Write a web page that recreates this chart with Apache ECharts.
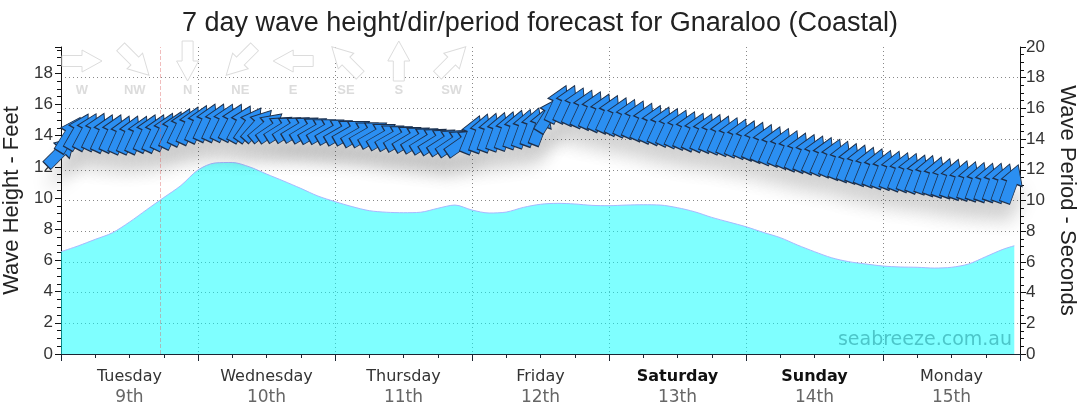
<!DOCTYPE html>
<html>
<head>
<meta charset="utf-8">
<title>Gnaraloo wave forecast</title>
<script src="https://cdn.jsdelivr.net/npm/echarts@6/dist/echarts.min.js"></script>
<style>
  html, body { margin: 0; padding: 0; background: #fff; }
  #chart { width: 1080px; height: 414px; }
</style>
</head>
<body>
<div id="chart"></div>
<script>
// day labels under the x axis
const dayNames = ['Tuesday', 'Wednesday', 'Thursday', 'Friday', 'Saturday', 'Sunday', 'Monday'];
const dayDates = ['9th', '10th', '11th', '12th', '13th', '14th', '15th'];
const weekendDays = ['Saturday', 'Sunday'];

// wave height (feet), hours from Tuesday 00:00
const heightHours = [0, 3, 6, 9, 12, 15, 18, 21, 24, 27, 30, 33, 36, 39, 42, 45, 48, 51, 54, 57,
  60, 63, 66, 69, 72, 75, 78, 81, 84, 87, 90, 93, 96, 99, 102, 105, 108, 111, 114, 117,
  120, 123, 126, 129, 132, 135, 138, 141, 144, 147, 150, 153, 156, 159, 162, 165, 167];
const waveHeightFt = [6.56, 6.93, 7.35, 7.77, 8.46, 9.25, 10.03, 10.8, 11.8, 12.25,
  12.28, 12.0, 11.54, 11.09, 10.62, 10.13, 9.77, 9.45, 9.19, 9.09,
  9.06, 9.09, 9.34, 9.55, 9.23, 9.04, 9.1, 9.4, 9.6, 9.66,
  9.62, 9.53, 9.51, 9.55, 9.57, 9.55, 9.38, 9.12, 8.76, 8.46,
  8.16, 7.8, 7.46, 6.99, 6.56, 6.17, 5.92, 5.77, 5.64, 5.58,
  5.56, 5.51, 5.56, 5.77, 6.24, 6.71, 6.94];

// wave period (seconds) and direction (degrees, coming from), one arrow every 1.5 h
const periodStepHours = 1.5;
const wavePeriodSec = [13.2, 14.3, 14.5, 14.5, 14.5, 14.4, 14.4, 14.3, 14.3, 14.3,
  14.4, 14.4, 14.5, 14.6, 14.8, 14.9, 15.0, 15.1, 15.1, 15.1,
  15.1, 15.0, 14.95, 14.9, 14.8, 14.7, 14.7, 14.7, 14.7, 14.65,
  14.6, 14.6, 14.55, 14.5, 14.5, 14.4, 14.4, 14.3, 14.2, 14.15,
  14.1, 14.05, 14.0, 13.95, 13.9, 13.85, 13.8, 13.8, 14.3, 14.4,
  14.45, 14.5, 14.55, 14.65, 14.7, 14.8, 14.85, 15.6, 16.3, 16.3,
  16.15, 16.0, 15.9, 15.75, 15.65, 15.5, 15.4, 15.3, 15.15, 15.0,
  14.9, 14.8, 14.7, 14.6, 14.5, 14.45, 14.4, 14.3, 14.2, 14.1,
  14.0, 13.9, 13.75, 13.6, 13.5, 13.35, 13.2, 13.1, 13.0, 12.9,
  12.8, 12.65, 12.5, 12.4, 12.25, 12.15, 12.05, 12.0, 11.9, 11.85,
  11.75, 11.7, 11.6, 11.5, 11.45, 11.35, 11.3, 11.25, 11.2, 11.2,
  11.15, 11.1];
const waveDirDeg = [225, 212, 210, 208,
  206, 205, 205, 204, 204, 205, 205, 205, 206, 206, 206, 205, 205, 205, 205, 206, 207, 208, 215, 222, 230,
  236, 238, 238, 239, 239, 240, 240, 240, 240, 240, 240, 240, 240, 240, 240, 240, 239, 239, 238, 238, 237, 236, 235,
  202, 200, 200, 200, 200, 200, 200, 200, 201,
  212,
  205, 205, 205, 205, 205, 205, 205, 205, 205, 205, 205, 205, 205, 205, 205, 205, 205, 205,
  204, 204, 204, 204, 204, 204, 204, 204, 204, 204, 204, 204, 204, 204, 204,
  202, 202, 202, 202, 202, 202, 202, 202, 202, 202,
  200, 200, 200, 200, 200, 200, 200, 200, 200, 200, 200];

// compass key at the top left
const compassLabels = ['W', 'NW', 'N', 'NE', 'E', 'SE', 'S', 'SW'];
const compassFromDeg = [270, 315, 0, 45, 90, 135, 180, 225];

const nowHour = 17.3;
const ARROW_PATH = 'path://M5.5,40L5.5,19L0,19L11,0L22,19L16.5,19L16.5,40Z';
const ARROW_SIZE = [22, 40];
const FONT_ARIAL = '"Liberation Sans", Arial, sans-serif';
const FONT_VERDANA = '"DejaVu Sans", Verdana, sans-serif';

const chart = echarts.init(document.getElementById('chart'));

const heightData = heightHours.map((h, i) => [h, waveHeightFt[i]]);
const arrowData = wavePeriodSec.map((p, i) => ({
  value: [i * periodStepHours, p],
  // arrow points where the swell is going
  symbolRotate: -((waveDirDeg[i] + 180) % 360)
}));

// compass key drawn as graphic elements
const compassGraphics = [];
compassLabels.forEach((lab, k) => {
  const cx = 82 + 52.8 * k;
  const toward = (compassFromDeg[k] + 180) % 360;
  compassGraphics.push({
    type: 'polygon',
    x: cx,
    y: 61,
    rotation: -(toward - 90) * Math.PI / 180,
    shape: {
      points: [[-20, -5.5], [0, -5.5], [0, -11], [20, 0], [0, 11], [0, 5.5], [-20, 5.5]]
    },
    style: { fill: '#fff', stroke: '#dcdcdc', lineWidth: 1 },
    silent: true,
    z: 1
  });
  compassGraphics.push({
    type: 'text',
    x: cx,
    y: 90,
    style: {
      text: lab,
      fill: '#dcdcdc',
      font: 'bold 13px ' + FONT_ARIAL,
      align: 'center',
      verticalAlign: 'middle'
    },
    silent: true,
    z: 1
  });
});

const gridLine = { type: [1, 3], color: '#888', width: 1 };

const option = {
  animation: false,
  backgroundColor: '#fff',
  title: {
    text: '7 day wave height/dir/period forecast for Gnaraloo (Coastal)',
    left: 'center',
    top: 5,
    textStyle: { fontFamily: FONT_ARIAL, fontSize: 27, fontWeight: 'normal', color: '#222' }
  },
  grid: { left: 61, right: 60, top: 47, bottom: 60, outerBoundsMode: 'none', containLabel: false },
  graphic: compassGraphics.concat([
    {
      type: 'text',
      right: 68,
      top: 331,
      style: {
        text: 'seabreeze.com.au',
        fill: '#4cc6c9',
        font: '19px ' + FONT_VERDANA
      },
      silent: true,
      z: 10
    }
  ]),
  xAxis: [
    {
      type: 'value',
      min: 0,
      max: 168,
      interval: 24,
      axisLine: { show: true, onZero: false, lineStyle: { color: '#1a2533', width: 1 } },
      axisTick: { show: true, length: 7, lineStyle: { color: '#1a2533' } },
      minorTick: { show: true, splitNumber: 4, length: 4, lineStyle: { color: '#1a2533' } },
      axisLabel: { show: false },
      splitLine: { show: true, showMinLine: false, showMaxLine: false, lineStyle: gridLine }
    },
    {
      type: 'category',
      data: dayNames,
      position: 'bottom',
      boundaryGap: true,
      axisLine: { show: false },
      axisTick: { show: false },
      axisLabel: {
        margin: 12,
        formatter: (v, i) => {
          const style = weekendDays.includes(v) ? 'w' : 'd';
          return '{' + style + '|' + v + '}\n{n|' + dayDates[i] + '}';
        },
        rich: {
          d: { fontFamily: FONT_VERDANA, fontSize: 16, color: '#333', lineHeight: 21 },
          w: { fontFamily: FONT_VERDANA, fontSize: 16, fontWeight: 'bold', color: '#111', lineHeight: 21 },
          n: { fontFamily: FONT_VERDANA, fontSize: 17, color: '#666', lineHeight: 21 }
        }
      }
    }
  ],
  yAxis: [
    {
      type: 'value',
      min: 0,
      max: 19.685,
      interval: 2,
      name: 'Wave Height - Feet',
      nameLocation: 'middle',
      nameGap: 28,
      nameTextStyle: { fontFamily: FONT_ARIAL, fontSize: 22, color: '#222' },
      axisLine: { show: true, lineStyle: { color: '#111' } },
      axisTick: { show: true, length: 6, lineStyle: { color: '#111' } },
      minorTick: { show: true, splitNumber: 4, length: 4, lineStyle: { color: '#111' } },
      axisLabel: {
        margin: 8,
        fontFamily: FONT_ARIAL,
        fontSize: 17,
        color: '#333',
        formatter: v => (Number.isInteger(v) ? String(v) : '')
      },
      splitLine: { show: false }
    },
    {
      type: 'value',
      min: 0,
      max: 20,
      interval: 2,
      position: 'right',
      name: 'Wave Period - Seconds',
      nameLocation: 'middle',
      nameGap: 36,
      nameRotate: -90,
      nameTextStyle: { fontFamily: FONT_ARIAL, fontSize: 22, color: '#222' },
      axisLine: { show: true, lineStyle: { color: '#111' } },
      axisTick: { show: true, length: 6, lineStyle: { color: '#111' } },
      minorTick: { show: true, splitNumber: 4, length: 4, lineStyle: { color: '#111' } },
      axisLabel: { margin: 6, fontFamily: FONT_ARIAL, fontSize: 17, color: '#333' },
      splitLine: { show: true, showMinLine: false, showMaxLine: false, lineStyle: gridLine }
    }
  ],
  series: [
    {
      name: 'Wave height',
      type: 'line',
      xAxisIndex: 0,
      yAxisIndex: 0,
      data: heightData,
      smooth: 0.3,
      showSymbol: false,
      lineStyle: { color: '#a8b8ff', width: 1 },
      areaStyle: { color: 'rgba(0, 255, 255, 0.5)', opacity: 1 },
      z: 1,
      markLine: {
        silent: true,
        symbol: 'none',
        label: { show: false },
        lineStyle: { type: 'dashed', color: 'rgba(220, 90, 90, 0.4)', width: 1 },
        data: [{ xAxis: nowHour }]
      }
    },
    {
      // soft shadow under the arrow band
      name: 'Shadow',
      type: 'scatter',
      xAxisIndex: 0,
      yAxisIndex: 1,
      data: arrowData,
      symbol: ARROW_PATH,
      symbolSize: ARROW_SIZE,
      silent: true,
      itemStyle: {
        color: '#fff',
        opacity: 1,
        shadowBlur: 18,
        shadowColor: 'rgba(0, 0, 0, 0.13)',
        shadowOffsetX: 2,
        shadowOffsetY: 20
      },
      z: 2
    },
    {
      name: 'Wave direction / period',
      type: 'scatter',
      xAxisIndex: 0,
      yAxisIndex: 1,
      data: arrowData,
      symbol: ARROW_PATH,
      symbolSize: ARROW_SIZE,
      // scatter defaults to 0.8 opacity, the arrows here are solid
      itemStyle: { color: '#2b8ff2', opacity: 1, borderColor: '#1d2f4a', borderWidth: 1 },
      z: 3
    }
  ]
};

chart.setOption(option);
window.addEventListener('resize', () => chart.resize());
</script>
</body>
</html>
